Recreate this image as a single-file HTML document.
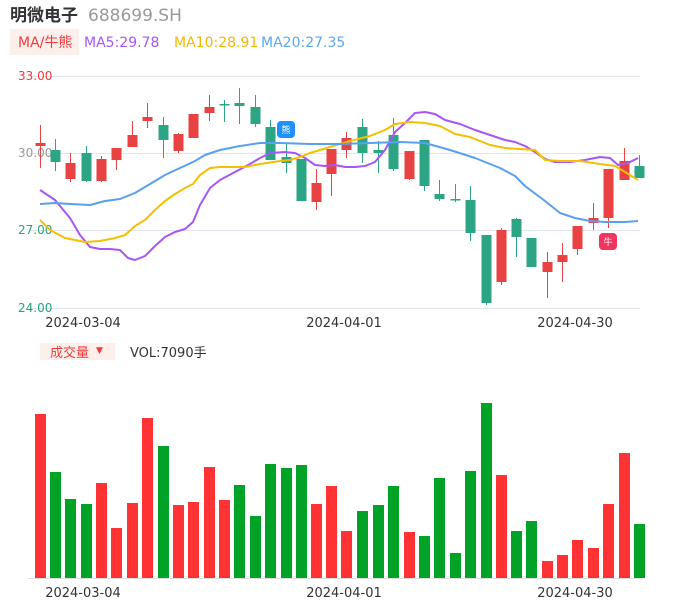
<!DOCTYPE html>
<html><head><meta charset="utf-8"><style>
html,body{margin:0;padding:0;background:#fff;width:686px;height:606px;overflow:hidden}
svg{display:block;font-family:"DejaVu Sans","Liberation Sans","Noto Sans CJK SC",sans-serif}
</style></head><body>
<svg id="s" width="686" height="606" xmlns="http://www.w3.org/2000/svg">
<text x="10" y="21" font-size="17" fill="#333" font-weight="bold" font-family="'Noto Sans CJK SC',sans-serif">明微电子</text>
<text x="88" y="21" font-size="17" fill="#999">688699.SH</text>
<rect x="10" y="29" width="69" height="26" fill="#fdf0ec"/>
<text x="18" y="47" font-size="14" fill="#f23a3a" font-family="'DejaVu Sans','Noto Sans CJK SC',sans-serif">MA/牛熊</text>
<text x="84" y="47" font-size="14" fill="#a855f7">MA5:29.78</text>
<text x="174" y="47" font-size="14" fill="#f5b800">MA10:28.91</text>
<text x="261" y="47" font-size="14" fill="#5aa8f5">MA20:27.35</text>
<g stroke="#e3e6f0" stroke-width="1">
<line x1="30" y1="76.5" x2="640" y2="76.5"/><line x1="30" y1="153.5" x2="640" y2="153.5"/>
<line x1="30" y1="230.5" x2="640" y2="230.5"/><line x1="30" y1="308.5" x2="640" y2="308.5"/>
<line x1="28" y1="578.5" x2="640" y2="578.5" stroke="#ddd"/>
</g>
<text x="18" y="80" font-size="12" fill="#f23a3a">33.00</text>
<text x="18" y="157" font-size="12" fill="#999">30.00</text>
<text x="18" y="234" font-size="12" fill="#26a17e">27.00</text>
<text x="18" y="312" font-size="12" fill="#26a17e">24.00</text>
<g font-size="13" fill="#333" text-anchor="middle">
<text x="83" y="327">2024-03-04</text><text x="344" y="327">2024-04-01</text><text x="575" y="327">2024-04-30</text>
<text x="83" y="597">2024-03-04</text><text x="344" y="597">2024-04-01</text><text x="575" y="597">2024-04-30</text>
</g>
<rect x="40" y="343" width="75" height="17" fill="#fdf0ec"/>
<text x="50" y="357" font-size="13" fill="#f23a3a" font-family="'Noto Sans CJK SC',sans-serif">成交量</text>
<text x="96" y="353" font-size="9" fill="#f23a3a">▼</text>
<text x="130" y="357" font-size="13" fill="#333" font-family="'DejaVu Sans','Noto Sans CJK SC',sans-serif">VOL:7090手</text>
<g id="c"></g>
<polyline fill="none" stroke="#a855f7" stroke-width="2" stroke-linejoin="round" points="40,190 55,200 70,218 80,235 90,247 100,249 110,249 120,250 128,258 135,260 145,256 155,246 165,237 175,232 185,229 193,222 200,205 210,188 220,180 235,172 250,164 260,158 270,153 285,152 295,153 305,158 315,165 325,166 335,165 345,167 355,167 365,166 375,162 385,150 395,132 405,123 415,113 425,112 435,114 445,120 460,124 475,130 490,135 505,140 515,142 525,146 535,152 545,159 555,162 570,162 585,160 600,157 610,158 618,165 628,163 638,158"/>
<polyline fill="none" stroke="#f5c000" stroke-width="2" stroke-linejoin="round" points="40,220 50,230 65,238 85,242 100,241 115,238 125,235 135,226 145,220 155,210 165,201 175,194 185,188 193,184 200,175 210,168 220,167 245,167 260,164 280,161 290,160 300,157 310,153 330,147 350,141 370,136 385,130 395,124 410,122 425,123 440,126 455,134 470,137 490,145 505,148 520,149 535,150 545,160 560,161 580,161 600,164 615,166 625,172 638,180"/>
<polyline fill="none" stroke="#5aa0f0" stroke-width="2" stroke-linejoin="round" points="40,204 55,203 70,204 90,205 105,201 120,199 135,193 150,184 165,175 180,168 195,161 205,155 220,150 240,146 260,143 280,143 310,144 340,144 370,143 400,142 425,143 450,150 475,158 500,168 515,176 525,186 545,201 560,213 575,218 590,221 605,222 625,222 638,221"/>
<g>
<rect x="277" y="121" width="18" height="17" rx="4" fill="#1e90ff"/>
<text x="286" y="133" font-size="9" fill="#fff" text-anchor="middle" font-family="'Noto Sans CJK SC',sans-serif">熊</text>
<rect x="599" y="233" width="18" height="17" rx="4" fill="#f0355f"/>
<text x="608" y="245" font-size="9" fill="#fff" text-anchor="middle" font-family="'Noto Sans CJK SC',sans-serif">牛</text>
</g>
</svg>
<script>
var R="#e84242",G="#2ca585";
var d=[[40,"r",143,146,125,168],[55,"g",150,162,139,171],[70,"r",163,179,153,182],[86,"g",153,181,146,182],[101,"r",159,181,156,182],[116,"r",148,160,148,170],[132,"r",135,147,121,147],[147,"r",117,121,103,128],[163,"g",125,140,117,158],[178,"r",134,151,133,153],[193,"r",114,138,114,138],[209,"r",107,113,95,121],[224,"g",104,105,100,122],[239,"g",103,106,88,124],[255,"g",107,124,95,127],[270,"g",127,160,120,160],[286,"g",157,163,143,173],[301,"g",159,201,159,201],[316,"r",183,202,169,210],[331,"r",149,174,149,196],[346,"r",138,150,132,158],[362,"g",127,153,119,163],[378,"g",150,153,141,173],[393,"g",135,169,118,171],[409,"r",151,179,151,180],[424,"g",140,186,140,191],[439,"g",194,199,180,201],[455,"g",199,200,184,202],[470,"g",200,233,186,241],[486,"g",235,303,235,305],[501,"r",230,282,228,285],[516,"g",219,237,218,257],[531,"g",238,267,238,267],[547,"r",262,272,252,298],[562,"r",255,262,243,282],[577,"r",226,249,226,255],[593,"r",218,223,203,230],[608,"r",169,218,169,228],[624,"r",161,180,148,180],[639,"g",166,178,155,178]];
var vt=[414,472,499,504,483,528,503,418,446,505,502,467,500,485,516,464,468,465,504,486,531,511,505,486,532,536,478,553,471,403,475,531,521,561,555,540,548,504,453,524];
var vc="RGGGRRRRGRRRRGGGGGRRRGGGRGGGGGRGGRRRRRRG";
var h="";
d.forEach(function(c,i){var col=c[1]=="r"?R:G;var x=c[0];
h+='<line x1="'+(x+.5)+'" x2="'+(x+.5)+'" y1="'+c[4]+'" y2="'+c[5]+'" stroke="'+col+'"/>';
h+='<rect x="'+(x-4.5)+'" y="'+c[2]+'" width="10" height="'+Math.max(1.5,c[3]-c[2])+'" fill="'+col+'"/>';
var vcol=vc[i]=="R"?"#ff3333":"#00a325";
h+='<rect x="'+(x-5)+'" y="'+vt[i]+'" width="11" height="'+(578-vt[i])+'" fill="'+vcol+'"/>';});
document.getElementById("c").innerHTML=h;
</script>
</body></html>
